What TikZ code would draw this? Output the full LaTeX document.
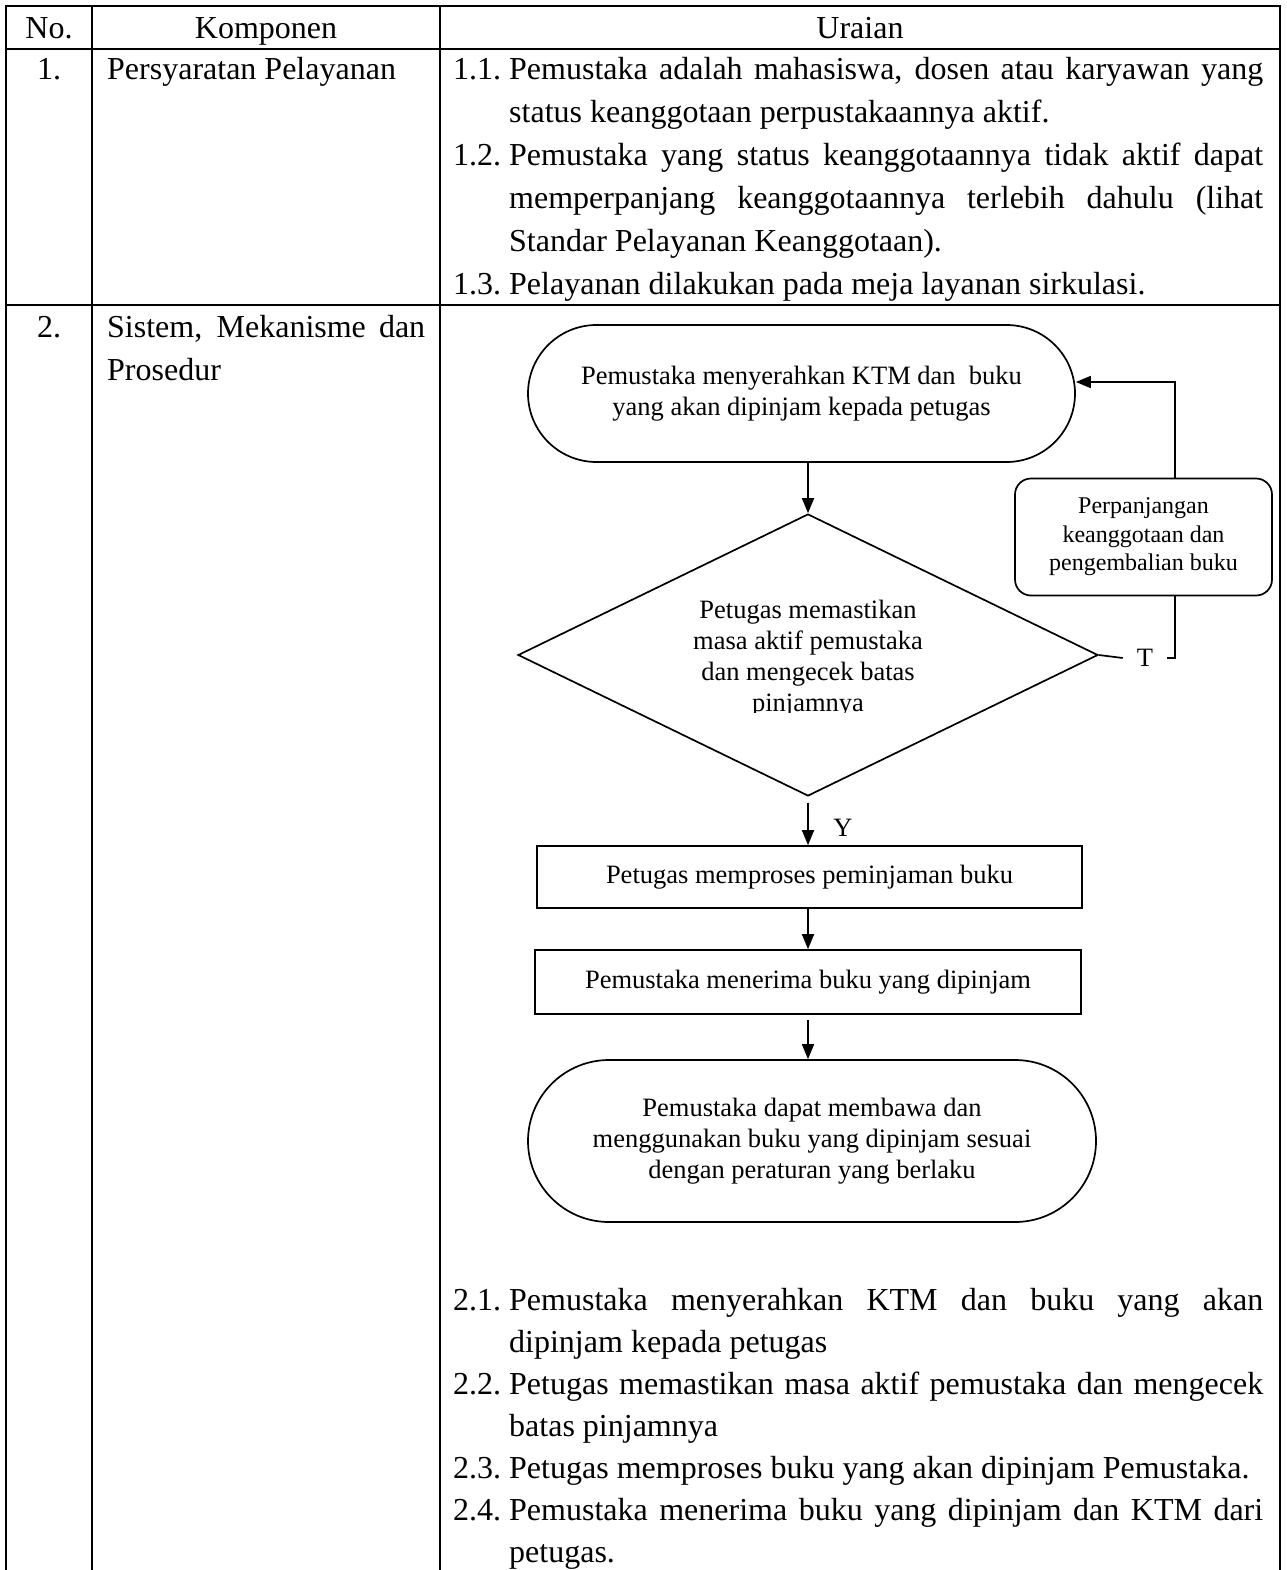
\documentclass[tikz,border=0pt]{standalone}
\usepackage{fontspec}
\setmainfont{Liberation Serif}
\usetikzlibrary{arrows.meta,shapes.geometric,shapes.misc}

\begin{document}
\begin{tikzpicture}[x=1pt,y=-1pt,
  tablerule/.style={line width=1.7pt},
  bodytext/.style={font=\fontsize{32}{43}\selectfont, inner sep=0pt},
  lefttext/.style={bodytext, anchor=base west},
  midtext/.style={bodytext, anchor=base},
  flowfont/.style={font=\fontsize{26.5}{31}\selectfont, align=center},
  flowbox/.style={flowfont, draw, line width=1.7pt, inner sep=0pt},
  flowlink/.style={line width=1.7pt},
  flowarrow/.style={flowlink, -{Triangle[length=15pt,width=12pt]}},
  notefont/.style={font=\fontsize{24}{28.5}\selectfont, align=center}
]
\useasboundingbox (0,0) rectangle (1286,1570);

% table grid
\draw[tablerule] (6,1570) -- (6,6) -- (1280,6) -- (1280,1570);
\draw[tablerule] (92,6) -- (92,1570);
\draw[tablerule] (440,6) -- (440,1570);
\draw[tablerule] (6,49) -- (1280,49);
\draw[tablerule] (6,305) -- (1280,305);

% header
\node[midtext] (hno) at (49,39) {No.};
\node[midtext] (hkomp) at (266,39) {Komponen};
\node[midtext] (hurai) at (860,39) {Uraian};

% row 1
\node[midtext] (n1) at (49,80) {1.};
\node[lefttext] (k1) at (107,80) {Persyaratan Pelayanan};
\node[lefttext] (u11) at (453,80) {1.1.};
\node[lefttext] (u11a) at (509,80) {\makebox[754pt][s]{Pemustaka adalah mahasiswa, dosen atau karyawan yang}};
\node[lefttext] (u11b) at (509,122.8) {status keanggotaan perpustakaannya aktif.};
\node[lefttext] (u12) at (453,165.6) {1.2.};
\node[lefttext] (u12a) at (509,165.6) {\makebox[754pt][s]{Pemustaka yang status keanggotaannya tidak aktif dapat}};
\node[lefttext] (u12b) at (509,208.4) {\makebox[754pt][s]{memperpanjang keanggotaannya terlebih dahulu (lihat}};
\node[lefttext] (u12c) at (509,251.2) {Standar Pelayanan Keanggotaan).};
\node[lefttext] (u13) at (453,294) {1.3.};
\node[lefttext] (u13a) at (509,294) {Pelayanan dilakukan pada meja layanan sirkulasi.};

% row 2
\node[midtext] (n2) at (49,337) {2.};
\node[lefttext] (k2a) at (107,337) {\makebox[318pt][s]{Sistem, Mekanisme dan}};
\node[lefttext] (k2b) at (107,380) {Prosedur};

% flowchart
\node[flowbox, rounded rectangle, minimum width=547pt, minimum height=137pt] (start) at (801.5,393.5)
  {Pemustaka menyerahkan KTM dan\ \ buku\\yang akan dipinjam kepada petugas};
\node[flowbox, diamond, aspect=2.06, minimum width=580pt, minimum height=282pt] (dia) at (808,655) {};
\begin{scope}
  \clip (560,560) rectangle (1060,712);
  \node[flowfont, inner sep=0pt] (diatext) at ([yshift=-4pt]dia.center)
    {Petugas memastikan\\masa aktif pemustaka\\dan mengecek batas\\pinjamnya};
\end{scope}
\node[flowbox, rectangle, minimum width=545pt, minimum height=62pt] (proc) at (809.5,877)
  {Petugas memproses peminjaman buku};
\node[flowbox, rectangle, minimum width=546pt, minimum height=64pt] (recv) at (808,982)
  {Pemustaka menerima buku yang dipinjam};
\node[flowbox, rounded rectangle, minimum width=568pt, minimum height=162pt] (finish) at (812,1141)
  {Pemustaka dapat membawa dan\\menggunakan buku yang dipinjam sesuai\\dengan peraturan yang berlaku};
\node[notefont, draw, line width=1.7pt, rounded corners=16pt, minimum width=257pt, minimum height=117pt, inner sep=0pt]
  (perp) at (1143.5,537) {Perpanjangan\\keanggotaan dan\\pengembalian buku};

% main flow
\draw[flowarrow] (start.south -| dia.north) -- (dia.north);
\draw[flowarrow] ([yshift=-6pt]dia.south) -- (dia.south |- proc.north);
\node[flowfont, inner sep=0pt] (ylab) at (843,828) {Y};
\draw[flowarrow] (proc.south -| recv.north) -- (recv.north);
\draw[flowarrow] ([yshift=-5pt]recv.south) -- (recv.south |- finish.north);

% "T" branch back to the start
\coordinate (fbx) at (1175,0);
\coordinate (fbin) at (1175,382);
\node[flowfont, inner ysep=0pt, inner xsep=14pt] (tlab) at (1145,658) {T};
\draw[flowlink] (dia.east) -- (tlab.west);
\draw[flowlink] (tlab.east) -- (tlab.east -| fbx) -- (fbx |- perp.south);
\draw[flowarrow] (fbx |- perp.north) -- (fbin) -- (fbin -| start.east);

% row 2 description
\node[lefttext] (u21) at (453,1310) {2.1.};
\node[lefttext] (u21a) at (509,1310) {\makebox[754pt][s]{Pemustaka menyerahkan KTM dan buku yang akan}};
\node[lefttext] (u21b) at (509,1352) {dipinjam kepada petugas};
\node[lefttext] (u22) at (453,1394) {2.2.};
\node[lefttext] (u22a) at (509,1394) {\makebox[754pt][s]{Petugas memastikan masa aktif pemustaka dan mengecek}};
\node[lefttext] (u22b) at (509,1436) {batas pinjamnya};
\node[lefttext] (u23) at (453,1478) {2.3.};
\node[lefttext] (u23a) at (509,1478) {Petugas memproses buku yang akan dipinjam Pemustaka.};
\node[lefttext] (u24) at (453,1520) {2.4.};
\node[lefttext] (u24a) at (509,1520) {\makebox[754pt][s]{Pemustaka menerima buku yang dipinjam dan KTM dari}};
\node[lefttext] (u24b) at (509,1562) {petugas.};
\end{tikzpicture}
\end{document}
